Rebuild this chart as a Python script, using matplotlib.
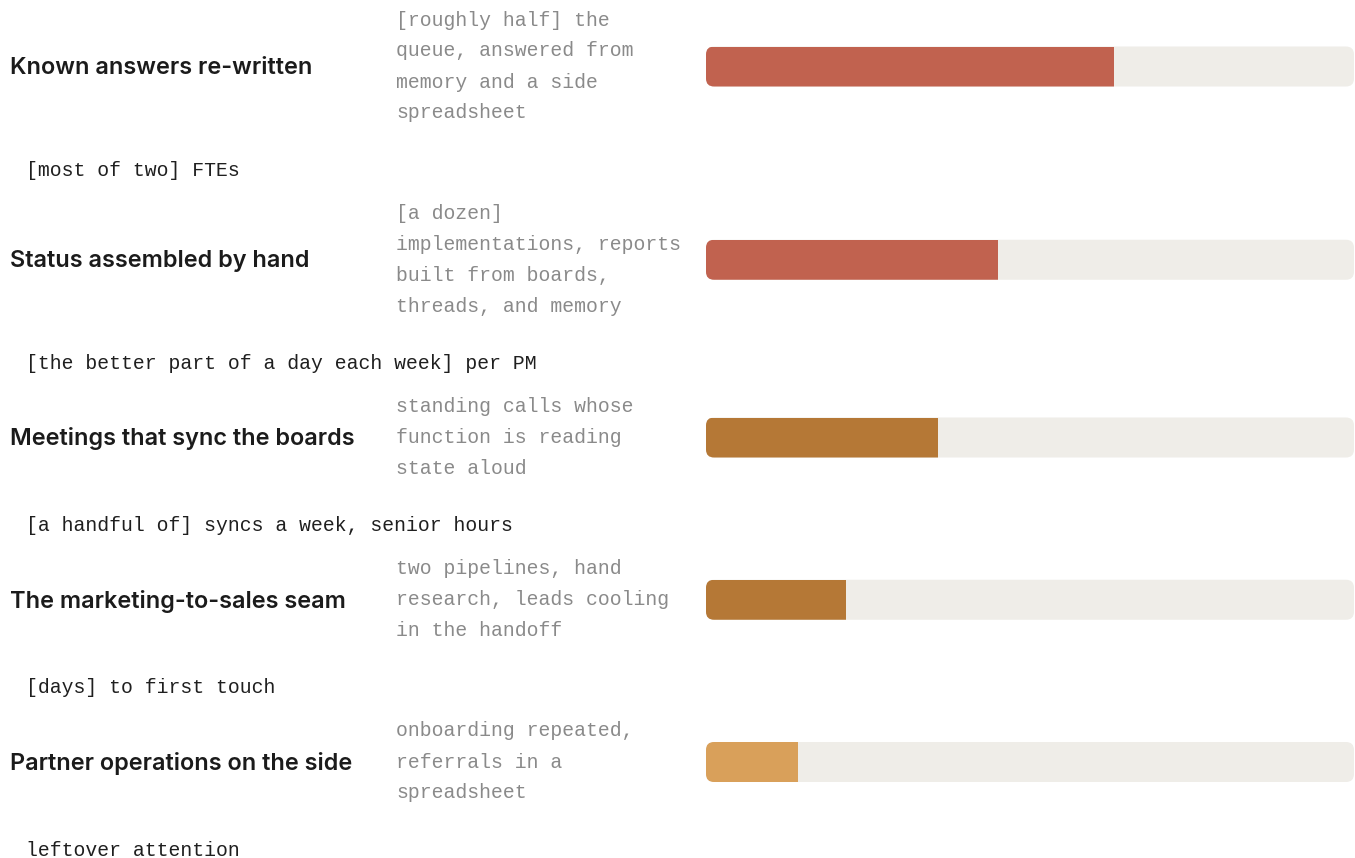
import matplotlib
matplotlib.use("Agg")
import matplotlib.pyplot as plt
from matplotlib.patches import FancyBboxPatch

# ---- data ----
titles = [
    "Known answers re-written",
    "Status assembled by hand",
    "Meetings that sync the boards",
    "The marketing-to-sales seam",
    "Partner operations on the side",
]
descriptions = [
    ["[roughly half] the", "queue, answered from", "memory and a side", "spreadsheet"],
    ["[a dozen]", "implementations, reports", "built from boards,", "threads, and memory"],
    ["standing calls whose", "function is reading", "state aloud"],
    ["two pipelines, hand", "research, leads cooling", "in the handoff"],
    ["onboarding repeated,", "referrals in a", "spreadsheet"],
]
footers = [
    "[most of two] FTEs",
    "[the better part of a day each week] per PM",
    "[a handful of] syncs a week, senior hours",
    "[days] to first touch",
    "leftover attention",
]
shares = [63.0, 45.0, 35.8, 21.6, 14.2]   # percent of track filled
colors = ["#C1624F", "#C1624F", "#B57836", "#B57836", "#D9A05A"]

# ---- layout (pixels) ----
W, H = 1355, 858
fig = plt.figure(figsize=(W / 100, H / 100), dpi=100)
ax = fig.add_axes([0, 0, 1, 1])
ax.set_xlim(0, W)
ax.set_ylim(H, 0)
ax.axis("off")

TITLE_X, DESC_X, FOOT_X = 10, 396, 26
TRACK_X0, TRACK_W, BAR_H = 706, 648, 40
LINE_H = 31
TRACK_COLOR = "#EFEDE8"

title_font = dict(family=["Inter", "DejaVu Sans"], fontsize=16.9, fontweight="semibold", color="#1b1b1b")
desc_font = dict(family=["Liberation Mono", "DejaVu Sans Mono"], fontsize=14.2, color="#8a8a8a")
foot_font = dict(family=["Liberation Mono", "DejaVu Sans Mono"], fontsize=14.2, color="#1f1f1f")

y = 4.5
for title, desc, foot, share, col in zip(titles, descriptions, footers, shares, colors):
    block_h = len(desc) * LINE_H
    cy = y + block_h / 2
    ax.text(TITLE_X, cy + 1.5, title, ha="left", va="center", **title_font)
    for i, line in enumerate(desc):
        ax.text(DESC_X, y + LINE_H * (i + 0.5), line, ha="left", va="center", **desc_font)
    track = FancyBboxPatch((TRACK_X0, cy - BAR_H / 2), TRACK_W, BAR_H,
                           boxstyle="round,pad=0,rounding_size=8",
                           facecolor=TRACK_COLOR, edgecolor="none", zorder=1)
    ax.add_patch(track)
    bars = ax.barh([cy], [TRACK_W * share / 100.0], left=TRACK_X0, height=BAR_H,
                   color=col, edgecolor="none", zorder=2)
    for b in bars:
        b.set_clip_path(track)
    fy = y + block_h + 40.5
    ax.text(FOOT_X, fy + 1, foot, ha="left", va="center", **foot_font)
    y = fy + 28.75

fig.savefig("out.png", dpi=100, facecolor="white")
